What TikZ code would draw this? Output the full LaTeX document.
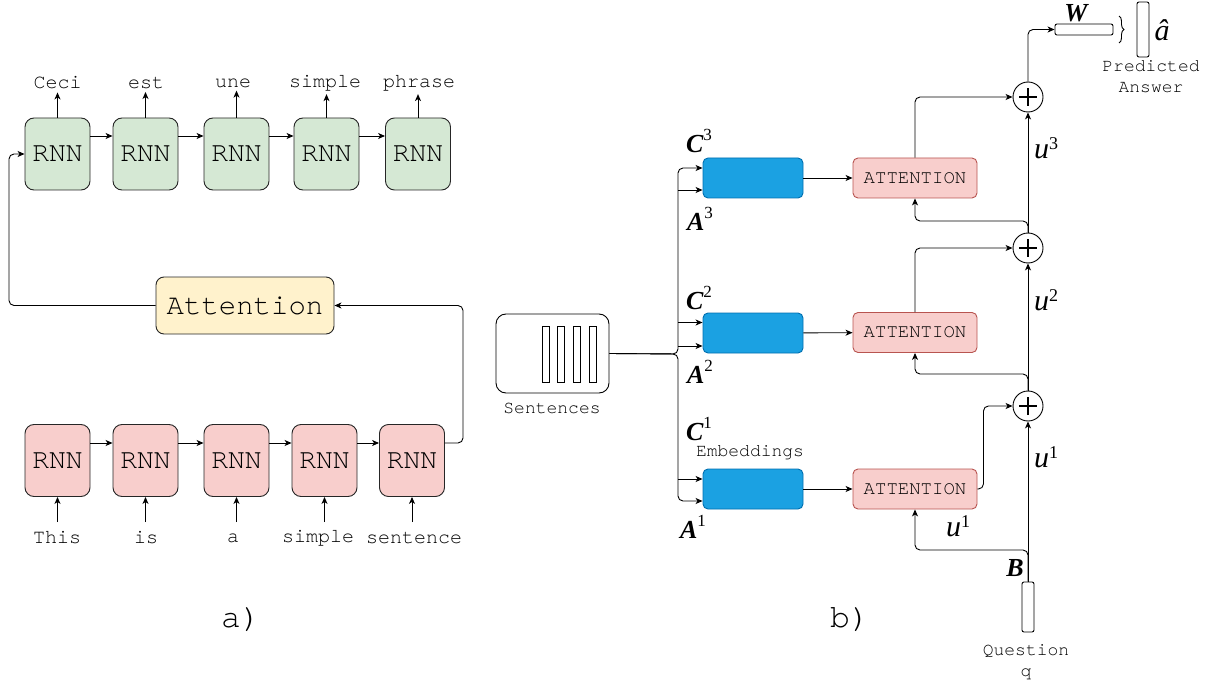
\documentclass[tikz,border=0pt]{standalone}
\usepackage{fontspec}
\setmainfont{Liberation Serif}
\newfontfamily\monofont{texgyrecursor-regular.otf}
\usetikzlibrary{arrows.meta,calc,decorations.pathreplacing}
\definecolor{gfill}{HTML}{D5E8D4}
\definecolor{pfill}{HTML}{F8CECC}
\definecolor{pline}{HTML}{B85450}
\definecolor{yfill}{HTML}{FFF2CC}
\definecolor{bfill}{HTML}{1BA1E2}
\definecolor{bline}{HTML}{006EAF}
\newcommand{\bsym}[2]{{\bfseries\itshape #1}\raisebox{0.45em}{\fontsize{17}{17}\selectfont #2}}
\newcommand{\isym}[2]{{\itshape #1}\raisebox{0.3em}{\fontsize{18}{18}\selectfont #2}}
\tikzset{
  base/.style={line width=0.9pt},
  arr/.style={base,-{Stealth[length=7pt,width=6pt,inset=2pt]}},
  rnng/.style={base,draw=black!85,fill=gfill,rounded corners=9pt,minimum width=65pt,minimum height=72pt,inner sep=0pt,font=\monofont\fontsize{28}{28}\selectfont},
  rnnp/.style={rnng,fill=pfill},
  attbox/.style={base,draw=black!85,fill=yfill,rounded corners=8pt,minimum width=178pt,minimum height=57pt,inner sep=0pt,font=\monofont\fontsize{29}{29}\selectfont},
  lbl/.style={inner sep=2pt,font=\monofont\fontsize{20}{20}\selectfont},
  sm/.style={inner sep=1pt,font=\monofont\fontsize{18}{18}\selectfont},
  emb/.style={base,draw=bline,fill=bfill,rounded corners=5pt,minimum width=100pt,minimum height=40pt,inner sep=0pt},
  attn/.style={base,draw=pline,fill=pfill,rounded corners=5pt,minimum width=124pt,minimum height=40pt,inner sep=0pt,font=\monofont\fontsize{19}{19}\selectfont},
  plus/.style={base,draw,circle,minimum size=30pt,inner sep=0pt,
    path picture={\draw[line width=1.1pt] ($(path picture bounding box.center)+(-9pt,0)$) -- ++(18pt,0);
                  \draw[line width=1.1pt] ($(path picture bounding box.center)+(0,-9pt)$) -- ++(0,18pt);}},
  vec/.style={base,draw,rounded corners=2pt,inner sep=0pt},
  math/.style={inner sep=0pt,font=\fontsize{26}{26}\selectfont},
  umath/.style={inner sep=0pt,font=\fontsize{30}{30}\selectfont},
  rc/.style={rounded corners=5pt}
}
\begin{document}
\begin{tikzpicture}[x=1pt,y=-1pt]
\useasboundingbox (0,0) rectangle (1213,687);
% ---------- panel a ----------
\node[rnng] (g1) at (57.5,154) {RNN};
\node[rnng] (g2) at (145.5,154) {RNN};
\node[rnng] (g3) at (236.5,154) {RNN};
\node[rnng] (g4) at (326.5,154) {RNN};
\node[rnng] (g5) at (418,154) {RNN};
\foreach \a/\b in {g1/g2,g2/g3,g3/g4,g4/g5}
  \draw[arr] ([yshift=18pt]\a.east) -- ([yshift=18pt]\b.west);
\node[lbl] (o1) at (57.5,83) {Ceci};
\node[lbl] (o2) at (146,83) {est};
\node[lbl] (o3) at (233,83) {une};
\node[lbl] (o4) at (325,83) {simple};
\node[lbl] (o5) at (419,83) {phrase};
\foreach \i in {1,...,5}
  \draw[arr] (g\i.north) -- ([yshift=-1pt]g\i.north |- o\i.south);

\node[rnnp] (p1) at (57.5,460.5) {RNN};
\node[rnnp] (p2) at (145.5,460.5) {RNN};
\node[rnnp] (p3) at (236.5,460.5) {RNN};
\node[rnnp] (p4) at (324.5,460.5) {RNN};
\node[rnnp] (p5) at (412,460.5) {RNN};
\foreach \a/\b in {p1/p2,p2/p3,p3/p4,p4/p5}
  \draw[arr] ([yshift=17.5pt]\a.east) -- ([yshift=17.5pt]\b.west);
\node[lbl] (i1) at (57,538) {This};
\node[lbl] (i2) at (146,538) {is};
\node[lbl] (i3) at (233,538) {a};
\node[lbl] (i4) at (318,538) {simple};
\node[lbl] (i5) at (414,538) {sentence};
\foreach \i in {1,...,5}
  \draw[arr] (p\i.south |- 0,522) -- (p\i.south);

\node[attbox] (att) at (245,305.5) {Attention};
\draw[arr,rc] (att.west) -- (9,305.5) |- (g1.west);
\draw[arr,rc] ([yshift=17.5pt]p5.east) -- (463,443) |- (att.east);
\node[inner sep=0pt,font=\monofont\fontsize{33}{33}\selectfont] (la) at (241,620) {a)};

% ---------- panel b ----------
\node[base,draw,rounded corners=10pt,minimum width=113pt,minimum height=79pt,inner sep=0pt] (sent) at (552.5,353.5) {};
\foreach \x in {545.5,561,577,592.5}
  \draw[base] (\x-3.5,326) rectangle (\x+3.5,382);
\node[sm] (sentl) at (552,408) {Sentences};

\node[emb] (b3) at (753,178) {};
\node[emb] (b2) at (753,333) {};
\node[emb] (b1) at (753,489) {};
\coordinate (bus) at (678,354);
\draw[arr,rc] (sent.east) -- (bus) |- ([yshift=10pt]b3.west);
\draw[arr] (bus |- 0,190) -- ([yshift=-12pt]b3.west);
\draw[arr] (bus |- 0,322.5) -- ([yshift=10.5pt]b2.west);
\draw[arr] (bus |- 0,346) -- ([yshift=-13pt]b2.west);
\draw[arr] (bus |- 0,479) -- ([yshift=10pt]b1.west);
\draw[arr,rc] (sent.east) -- (bus) |- ([yshift=-12pt]b1.west);

\node[math] (C3) at (699,141) {\bsym{C}{3}};
\node[math] (A3) at (700,219) {\bsym{A}{3}};
\node[math] (C2) at (699,298) {\bsym{C}{2}};
\node[math] (A2) at (700,372) {\bsym{A}{2}};
\node[math] (C1) at (699,429) {\bsym{C}{1}};
\node[math] (A1) at (693,527) {\bsym{A}{1}};
\node[sm] (embl) at (750,453) {Embeddings};

\node[attn] (t3) at (915,178) {ATTENTION};
\node[attn] (t2) at (915,332.5) {ATTENTION};
\node[attn] (t1) at (915,489) {ATTENTION};
\draw[arr] (b3) -- (t3);
\draw[arr] (b2) -- (t2);
\draw[arr] (b1) -- (t1);

\node[plus] (c1) at (1028,406) {};
\node[plus] (c2) at (1028,248) {};
\node[plus] (c3) at (1028,97) {};

\node[vec,minimum width=12pt,minimum height=50pt] (q) at (1028,607) {};
\node[sm] (ql1) at (1026,651) {Question};
\node[sm] (ql2) at (1026,674) {q};

\draw[arr] (q.north) -- (c1.south);
\draw[arr,rc] (q.north) |- (t1.south |- 0,550) -- (t1.south);
\draw[arr,rc] (t1.east) -- ++(6,0) |- (c1.west);
\draw[arr] (c1.north) -- (c2.south);
\draw[arr,rc] (c1.north) |- (t2.south |- 0,374) -- (t2.south);
\draw[arr,rc] (t2.north) |- (c2.west);
\draw[arr] (c2.north) -- (c3.south);
\draw[arr,rc] (c2.north) |- (t3.south |- 0,221) -- (t3.south);
\draw[arr,rc] (t3.north) |- (c3.west);

\node[vec,minimum width=58pt,minimum height=11pt] (wv) at (1084,29.5) {};
\draw[arr,rc] (c3.north) |- (wv.west);
\node[math] (Wl) at (1076,13) {\bfseries\itshape W};
\node[vec,minimum width=12pt,minimum height=55pt] (av) at (1143,29.5) {};
\draw[base,decorate,decoration={brace,amplitude=5pt}] (1119,16) -- (1119,43);
\node[umath] (ahat) at (1162,30) {\itshape \^a};
\node[sm] (pl1) at (1151,66) {Predicted};
\node[sm] (pl2) at (1151,88) {Answer};

\node[math] (Bl) at (1015,568) {\bfseries\itshape B};
\node[umath] (u1a) at (958,526) {\isym{u}{1}};
\node[umath] (u1b) at (1046,457) {\isym{u}{1}};
\node[umath] (u2) at (1046,300) {\isym{u}{2}};
\node[umath] (u3) at (1046,148) {\isym{u}{3}};
\node[inner sep=0pt,font=\monofont\fontsize{33}{33}\selectfont] (lb) at (850,620) {b)};
\end{tikzpicture}
\end{document}
